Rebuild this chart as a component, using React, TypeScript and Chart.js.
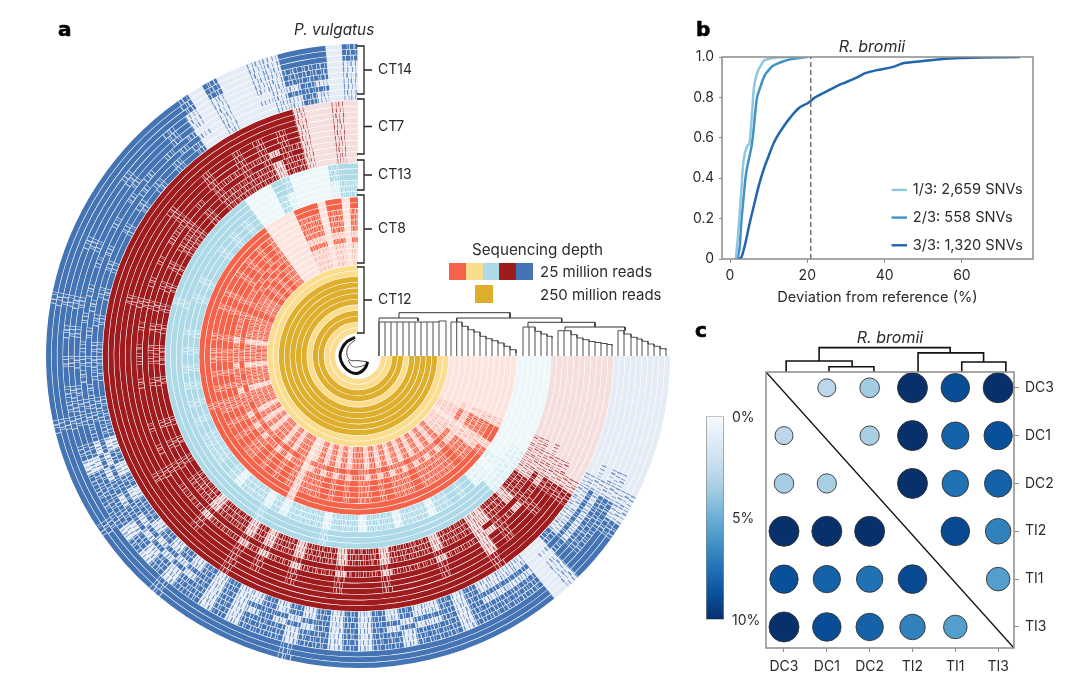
import React, { useEffect, useRef } from "react";
import { Chart, registerables } from "chart.js";

Chart.register(...registerables);

const FONT = "Inter, 'Noto Sans', sans-serif";
const INK = "#2b2b2b";
const SPINE = "#8a8a8a";
Chart.defaults.font.family = FONT;
Chart.defaults.color = INK;

/* ---------- panel a: coverage tracks (one character = 3 degrees, clockwise from east; 0 low .. 3 full) ---------- */
const CT14_OUTER = ["0000000001", "1233310333", "3333333333", "3333233333", "3332333323", "3333323333", "3332333333", "3333333320", "2001133302"];
const CT14_MID = ["0000000011", "2222310222", "2212221221", "2122122212", "1221212122", "2212322232", "3232333233", "3323332310", "1001122201"];
const CT14_INNER = ["0000000001", "1111200111", "1212112121", "2121212112", "1212121221", "2121222322", "2323232332", "3232323200", "1000112101"];
const CT7_OUTER = ["0000000000", "1233333323", "3333333333", "3333333333", "2333333333", "3333333333", "3333333333", "3333333333", "3333310010"];
const CT7_MID = ["0000000001", "1232332313", "3323333233", "3233323323", "2333233332", "3333333333", "3333233333", "3323332332", "3232310010"];
const CT7_INNER = ["0000000011", "1122122112", "2212222122", "2122212212", "1222122232", "3232333232", "2323232323", "2223232222", "2212210010"];
const CT13_OUTER = ["0000000000", "1111133333", "3333333333", "3332333333", "2333333333", "3333333333", "3333323333", "3333333300", "0320000233"];
const CT13_INNER = ["0000000000", "0010113232", "2122212221", "2221222212", "1222123222", "2323232323", "2323332323", "3323232300", "0210000122"];
const CT8_OUTER = ["0000000013", "3123333333", "3333333333", "3333333313", "3333333333", "3332333333", "3333333333", "3333333300", "0033303303"];
const CT8_MID = ["0000000012", "2112232222", "2322232322", "3232322212", "3232322323", "2322323232", "2323332323", "3232323200", "0022202202"];
const CT8_INNER = ["0000000001", "1011121212", "1212121212", "2121212102", "2121221212", "1222122212", "2212222322", "2323232200", "0011101101"];
const CT12_DEEP = ["3333333333", "3333333333", "3333333333", "3333333333", "3333333333", "3333333333", "3333333333", "3333333333", "3333333333"];
const CT12_SHALLOW = ["0000000000", "0000000000", "0000000000", "0000000000", "0000000000", "0000000000", "0000000000", "0000000000", "0000000000"];

const TRACKS_CT12 = [CT12_SHALLOW, CT12_SHALLOW, CT12_DEEP, CT12_DEEP, CT12_SHALLOW, CT12_DEEP, CT12_DEEP, CT12_DEEP, CT12_DEEP, CT12_DEEP, CT12_SHALLOW, CT12_SHALLOW];
const TRACKS_CT8 = [CT8_INNER, CT8_INNER, CT8_INNER, CT8_INNER, CT8_MID, CT8_INNER, CT8_MID, CT8_MID, CT8_MID, CT8_MID, CT8_OUTER, CT8_OUTER];
const TRACKS_CT13 = [CT13_INNER, CT13_INNER, CT13_INNER, CT13_OUTER, CT13_OUTER, CT13_OUTER];
const TRACKS_CT7 = [CT7_INNER, CT7_INNER, CT7_INNER, CT7_MID, CT7_INNER, CT7_MID, CT7_MID, CT7_MID, CT7_OUTER, CT7_OUTER, CT7_OUTER];
const TRACKS_CT14 = [CT14_INNER, CT14_INNER, CT14_MID, CT14_INNER, CT14_MID, CT14_MID, CT14_MID, CT14_OUTER, CT14_OUTER, CT14_OUTER];

const COLOURS_CT12 = ["#FBDD8F", "#DEAE2D"];
const COLOURS_CT8 = ["#FDE5DF", "#F4634A"];
const COLOURS_CT13 = ["#EEF8FB", "#AEDAE8"];
const COLOURS_CT7 = ["#F4DEDE", "#9E1B1E"];
const COLOURS_CT14 = ["#E6ECF6", "#4474B4"];

/* spans (degrees) of alternating covered / uncovered streaks inside one 3-degree cell */
const STREAKS_PARTIAL = [
  [0.3, 0.55, 0.25, 0.7, 0.2, 0.5, 0.15, 0.35],
  [0.2, 0.4, 0.35, 0.6, 0.15, 0.75, 0.3, 0.25],
  [0.25, 0.7, 0.2, 0.35, 0.3, 0.6, 0.2, 0.4],
];
const STREAKS_MOSTLY = [
  [0.8, 0.12, 0.55, 0.2, 0.75, 0.08, 0.4, 0.1],
  [0.5, 0.18, 0.9, 0.1, 0.35, 0.22, 0.65, 0.1],
  [0.95, 0.1, 0.3, 0.15, 0.7, 0.2, 0.5, 0.1],
];

/* ---------- panel a: dendrogram (radius position, height) ---------- */
const LEAVES_CT12 = [21, 27, 33, 39, 45, 51, 57, 63, 69, 75, 81, 88];
const TOPS_CT12 = [34, 34, 34, 34, 34, 34, 34, 34, 34, 34, 35, 35];
const LEAVES_CT8 = [93, 98.7, 104, 110, 116, 122, 128, 134, 140, 146, 152, 158];
const TOPS_CT8 = [34, 34, 29.7, 26.3, 24, 19.7, 17.3, 15.3, 13, 9.7, 6.3, 3];
const LEAVES_CT13 = [165, 171, 177, 183, 189, 194];
const TOPS_CT13 = [29, 29, 24.7, 22, 19.7, 18];
const LEAVES_CT7 = [200, 206, 213, 219, 225, 231, 237, 243, 249, 254];
const TOPS_CT7 = [25.3, 25.3, 21.3, 18, 16.3, 14.5, 13.5, 12.5, 11.5, 10.3];
const LEAVES_CT14 = [260, 266, 273, 279, 284, 290, 296, 302, 308];
const TOPS_CT14 = [25.3, 22, 18.7, 17, 14.7, 12, 9.7, 7.3, 6.3];
const TREE_BRIDGES = [
  [[21, 0], [21, 38], [60, 38], [60, 35]],
  [[41, 38], [41, 43.3], [152, 43.3], [152, 38]],
  [[98.7, 38], [203.7, 38], [203.7, 33.7]],
  [[98.7, 38], [98.7, 34]],
  [[170, 29], [170, 33.7], [237, 33.7], [237, 29]],
  [[207, 25.3], [207, 29], [267, 29], [267, 25.3]],
];
const SWIRL_THICK = [[-3, 18.7], [-11, 14.3], [-16, 7.7], [-18, 0], [-15, -9], [-8, -15.7], [0, -17.3], [7, -12.3], [9.7, -5.7]];
const SWIRL_UPPER = [[-3, 16], [-9.7, 9.3], [-11, 1], [-8, -4], [0, -4.7], [8.7, -5.7]];
const SWIRL_LOWER = [[-9.7, -4], [-6, -10], [0, -11], [7, -9]];
const BRACKET_NAMES = ["CT14", "CT7", "CT13", "CT8", "CT12"];
const BRACKET_FROM = [310, 257, 196, 161, 89];
const BRACKET_TO = [262, 202, 166, 93, 23];

/* ---------- panel a: legend ---------- */
const DEPTH_SWATCHES = ["#F4634A", "#FADC8C", "#AEDAE8", "#9E1B1E", "#4474B4"];
const DEPTH_DEEP = "#DEAE2D";

/* ---------- panel b ---------- */
const B_LABELS = ["1/3: 2,659 SNVs", "2/3: 558 SNVs", "3/3: 1,320 SNVs"];
const B_COLOURS = ["#92C5DE", "#4292C6", "#2166AC"];
const B1_X = [1.5, 2, 2.8, 3.3, 3.8, 4.5, 5, 5.3, 5.8, 6.2, 7, 8, 9, 10, 12, 15, 20];
const B1_Y = [0, 0.1, 0.3, 0.45, 0.52, 0.56, 0.57, 0.62, 0.75, 0.85, 0.92, 0.96, 0.985, 0.99, 0.998, 1, 1];
const B2_X = [2, 2.5, 3, 3.5, 4, 4.5, 5.5, 6, 6.5, 7, 8, 9, 10, 11, 12, 14, 16, 18, 19, 20];
const B2_Y = [0, 0.06, 0.2, 0.3, 0.4, 0.46, 0.55, 0.62, 0.72, 0.8, 0.86, 0.91, 0.935, 0.955, 0.965, 0.98, 0.99, 0.995, 0.998, 1];
const B3_X = [2.2, 3, 4, 5, 6, 7, 8, 9, 10, 11, 12, 14, 16, 18, 20, 21, 22, 24, 26, 28, 30, 33, 35, 38, 42, 45, 50, 55, 60, 65, 75];
const B3_Y = [0, 0.01, 0.08, 0.17, 0.25, 0.33, 0.4, 0.46, 0.51, 0.56, 0.6, 0.66, 0.71, 0.75, 0.77, 0.785, 0.8, 0.82, 0.84, 0.86, 0.875, 0.9, 0.92, 0.935, 0.95, 0.97, 0.98, 0.99, 0.995, 0.998, 1];
const B_THRESHOLD = 20.9;
const B_XTICKS = [0, 20, 40, 60];
const B_YTICKS = [0, 0.2, 0.4, 0.6, 0.8, 1];

/* ---------- panel c ---------- */
const SAMPLES = ["DC3", "DC1", "DC2", "TI2", "TI1", "TI3"];
const DIFF_DC3 = [null, 2.8, 3.6, 10, 8.9, 10];
const DIFF_DC1 = [2.8, null, 3.4, 10, 8.1, 8.8];
const DIFF_DC2 = [3.5, 3.4, null, 10, 7.5, 8.1];
const DIFF_TI2 = [10, 10, 10, null, 9, 6.9];
const DIFF_TI1 = [8.8, 8.1, 7.5, 9, null, 5.7];
const DIFF_TI3 = [10, 8.9, 8.1, 6.9, 5.7, null];
const DIFFS = [DIFF_DC3, DIFF_DC1, DIFF_DC2, DIFF_TI2, DIFF_TI1, DIFF_TI3];
const C_TREE = [
  [[0.05, -0.33], [0.05, -0.56], [1.59, -0.56], [1.59, -0.44]],
  [[1.05, -0.33], [1.05, -0.44], [2.1, -0.44], [2.1, -0.33]],
  [[0.82, -0.56], [0.82, -0.84], [3.88, -0.84], [3.88, -0.73]],
  [[3.13, -0.33], [3.13, -0.73], [4.66, -0.73], [4.66, -0.54]],
  [[4.15, -0.33], [4.15, -0.54], [5.18, -0.54], [5.18, -0.33]],
];
const BLUES = ["#f7fbff", "#deebf7", "#c6dbef", "#9ecae1", "#6baed6", "#4292c6", "#2171b5", "#08519c", "#08306b"];
const BAR_TICKS = [0, 5, 10];

/* ---------- helpers ---------- */
const hex = (c: string) => [1, 3, 5].map((i) => parseInt(c.slice(i, i + 2), 16));
function mix(from: string, to: string, t: number) {
  const a = hex(from);
  const b = hex(to);
  const c = a.map((p, k) => Math.round(p + (b[k] - p) * t));
  return `rgb(${c[0]},${c[1]},${c[2]})`;
}
function bluesAt(v: number) {
  const t = Math.min(Math.max(v / 10, 0), 1) * (BLUES.length - 1);
  const i = Math.min(Math.floor(t), BLUES.length - 2);
  return mix(BLUES[i], BLUES[i + 1], t - i);
}
const bubbleRadius = (v: number) => Math.sqrt(100 + 80 * v) / 2;
const xy = (xs: number[], ys: number[]) => xs.map((x, i) => ({ x, y: ys[i] }));
const gap = { x: NaN, y: NaN };
function polylines(lines: number[][][]) {
  const out: { x: number; y: number }[] = [];
  lines.forEach((l) => {
    l.forEach(([x, y]) => out.push({ x, y }));
    out.push(gap);
  });
  return out;
}
function staircase(leaves: number[], tops: number[]) {
  const lines: number[][][] = [];
  leaves.forEach((r, i) => {
    lines.push([[r, 0], [r, tops[i]]]);
    if (i < leaves.length - 1) lines.push([[r, tops[i]], [leaves[i + 1], tops[i]], [leaves[i + 1], tops[i + 1]]]);
  });
  return lines;
}
function trackDataset(profile: string[], colours: string[], trackIndex: number) {
  const cells = profile.join("").split("").map(Number);
  const data: number[] = [];
  const backgroundColor: string[] = [];
  const softGap = mix(colours[0], colours[1], 0.25);
  const softMark = mix(colours[0], colours[1], 0.75);
  const push = (span: number, colour: string) => {
    if (backgroundColor[backgroundColor.length - 1] === colour) data[data.length - 1] += span;
    else {
      data.push(span);
      backgroundColor.push(colour);
    }
  };
  cells.forEach((level, i) => {
    if (level === 0) push(3, colours[0]);
    else if (level === 3) push(3, colours[1]);
    else if (level === 1) {
      STREAKS_PARTIAL[(i + trackIndex) % 3].forEach((span, k) => push(span, k % 2 === 0 ? softMark : colours[0]));
    } else {
      STREAKS_MOSTLY[(i + trackIndex) % 3].forEach((span, k) => push(span, k % 2 === 0 ? colours[1] : softGap));
    }
  });
  return { data, backgroundColor, borderWidth: 0, hoverBorderWidth: 0, weight: 1 };
}

/* ---------- chart configs ---------- */
function ringsConfig(): any {
  const tracks: { profile: string[]; colours: string[] }[] = [];
  const add = (list: string[][], colours: string[]) => list.forEach((profile) => tracks.push({ profile, colours }));
  add(TRACKS_CT12, COLOURS_CT12);
  add(TRACKS_CT8, COLOURS_CT8);
  add(TRACKS_CT13, COLOURS_CT13);
  add(TRACKS_CT7, COLOURS_CT7);
  add(TRACKS_CT14, COLOURS_CT14);
  const datasets: any[] = [];
  tracks.slice().reverse().forEach((t, idx) => {
    datasets.push(trackDataset(t.profile, t.colours, idx));
    datasets.push({ data: [270], backgroundColor: ["rgba(255,255,255,0.5)"], borderWidth: 0, hoverBorderWidth: 0, weight: 0.11 });
  });
  return {
    type: "doughnut",
    data: { datasets },
    options: {
      responsive: false,
      animation: false,
      events: [],
      rotation: 90,
      circumference: 270,
      radius: 312,
      cutout: 23,
      layout: { padding: 0 },
      plugins: { legend: { display: false }, tooltip: { enabled: false } },
    },
  };
}

function overlayConfig(): any {
  const labelPlugin = {
    id: "bracketLabels",
    afterDatasetsDraw(chart: any) {
      const { ctx, scales } = chart;
      ctx.save();
      ctx.fillStyle = INK;
      ctx.font = `14px ${FONT}`;
      ctx.textBaseline = "middle";
      BRACKET_NAMES.forEach((name, i) => {
        ctx.fillText(name, scales.x.getPixelForValue(20), scales.y.getPixelForValue((BRACKET_FROM[i] + BRACKET_TO[i]) / 2));
      });
      ctx.restore();
    },
  };
  const line = (data: any[], color: string, width: number, tension = 0) => ({
    type: "line",
    data,
    borderColor: color,
    borderWidth: width,
    tension,
    pointRadius: 0,
    spanGaps: false,
    fill: false,
  });
  const leaves = [
    ...staircase(LEAVES_CT12, TOPS_CT12),
    ...staircase(LEAVES_CT8, TOPS_CT8),
    ...staircase(LEAVES_CT13, TOPS_CT13),
    ...staircase(LEAVES_CT7, TOPS_CT7),
    ...staircase(LEAVES_CT14, TOPS_CT14),
  ];
  const brackets: number[][][] = [];
  BRACKET_FROM.forEach((from, i) => {
    const to = BRACKET_TO[i];
    brackets.push([[-1, from], [6, from], [6, to], [-1, to]]);
    brackets.push([[6, (from + to) / 2], [14, (from + to) / 2]]);
  });
  return {
    type: "line",
    data: {
      datasets: [
        line(polylines(leaves), "#4d4d4d", 1),
        line(polylines(TREE_BRIDGES), "#333333", 1),
        line(polylines(brackets), "#222222", 1.3),
        line(SWIRL_THICK.map(([x, y]) => ({ x, y })), "#111111", 3, 0.4),
        line(SWIRL_UPPER.map(([x, y]) => ({ x, y })), "#444444", 1, 0.4),
        line(SWIRL_LOWER.map(([x, y]) => ({ x, y })), "#555555", 1, 0.4),
      ],
    },
    plugins: [labelPlugin],
    options: {
      responsive: false,
      animation: false,
      events: [],
      layout: { padding: 0 },
      plugins: { legend: { display: false }, tooltip: { enabled: false } },
      scales: {
        x: { type: "linear", min: -30, max: 320, display: false },
        y: { type: "linear", min: -30, max: 320, display: false },
      },
    },
  };
}

const boxPlugin = {
  id: "box",
  afterDraw(chart: any) {
    const { ctx, chartArea: a } = chart;
    ctx.save();
    ctx.strokeStyle = SPINE;
    ctx.lineWidth = 1.5;
    ctx.strokeRect(a.left, a.top, a.right - a.left, a.bottom - a.top);
    ctx.restore();
  },
};

function cdfConfig(): any {
  const legendPlugin = {
    id: "snvLegend",
    afterDraw(chart: any) {
      const { ctx, scales } = chart;
      ctx.save();
      ctx.font = `14.6px ${FONT}`;
      ctx.textBaseline = "middle";
      B_LABELS.forEach((label, i) => {
        const y = scales.y.getPixelForValue(0.342 - 0.137 * i);
        ctx.strokeStyle = B_COLOURS[i];
        ctx.lineWidth = 2.4;
        ctx.beginPath();
        ctx.moveTo(scales.x.getPixelForValue(41.8), y);
        ctx.lineTo(scales.x.getPixelForValue(45.8), y);
        ctx.stroke();
        ctx.fillStyle = INK;
        ctx.fillText(label, scales.x.getPixelForValue(47.3), y);
      });
      ctx.restore();
    },
  };
  const series = (x: number[], y: number[], color: string, label: string) => ({
    label,
    data: xy(x, y),
    borderColor: color,
    borderWidth: 2.5,
    pointRadius: 0,
    tension: 0.2,
    fill: false,
  });
  return {
    type: "line",
    data: {
      datasets: [
        { label: "threshold", data: xy([B_THRESHOLD, B_THRESHOLD], [0, 1]), borderColor: "#6b6b6b", borderWidth: 1.4, borderDash: [5, 3], pointRadius: 0 },
        series(B1_X, B1_Y, B_COLOURS[0], B_LABELS[0]),
        series(B2_X, B2_Y, B_COLOURS[1], B_LABELS[1]),
        series(B3_X, B3_Y, B_COLOURS[2], B_LABELS[2]),
      ],
    },
    plugins: [boxPlugin, legendPlugin],
    options: {
      responsive: false,
      animation: false,
      events: [],
      layout: { padding: { right: 21, top: 27 } },
      plugins: { legend: { display: false }, tooltip: { enabled: false } },
      scales: {
        x: {
          type: "linear",
          min: -2.07,
          max: 78.4,
          afterBuildTicks: (s: any) => { s.ticks = B_XTICKS.map((value) => ({ value })); },
          afterFit: (s: any) => { s.height = 51; },
          ticks: { font: { size: 14 }, color: INK, maxRotation: 0, padding: 4, callback: (v: any) => String(v) },
          grid: { drawOnChartArea: false, color: SPINE, tickLength: 4 },
          border: { display: false },
          title: { display: true, text: "Deviation from reference (%)", color: INK, font: { size: 14.6 }, padding: { top: 2, bottom: 4 } },
        },
        y: {
          type: "linear",
          min: 0,
          max: 1,
          afterBuildTicks: (s: any) => { s.ticks = B_YTICKS.map((value) => ({ value })); },
          afterFit: (s: any) => { s.width = 32; },
          ticks: { font: { size: 14 }, color: INK, padding: 5, callback: (v: any) => (v === 0 ? "0" : Number(v).toFixed(1)) },
          grid: { drawOnChartArea: false, color: SPINE, tickLength: 3 },
          border: { display: false },
        },
      },
    },
  };
}

function matrixConfig(): any {
  const points: any[] = [];
  DIFFS.forEach((row, y) =>
    row.forEach((v, x) => {
      if (v !== null) points.push({ x, y, r: bubbleRadius(v), v });
    })
  );
  const xMin = -0.42, xMax = 5.37, yMin = -0.33, yMax = 5.44;
  return {
    type: "bubble",
    data: {
      datasets: [
        { type: "line", data: xy([xMin, xMax], [yMin, yMax]), borderColor: "#111111", borderWidth: 1.4, pointRadius: 0 },
        { type: "line", data: polylines(C_TREE), borderColor: "#111111", borderWidth: 1.6, pointRadius: 0, clip: false, spanGaps: false },
        {
          type: "bubble",
          data: points,
          backgroundColor: points.map((p) => bluesAt(p.v)),
          borderColor: "#333333",
          borderWidth: 0.9,
          hoverRadius: 0,
        },
      ],
    },
    plugins: [boxPlugin],
    options: {
      responsive: false,
      animation: false,
      events: [],
      layout: { padding: { left: 46, top: 47 } },
      plugins: { legend: { display: false }, tooltip: { enabled: false } },
      scales: {
        x: {
          type: "linear",
          min: xMin,
          max: xMax,
          afterBuildTicks: (s: any) => { s.ticks = SAMPLES.map((_, value) => ({ value })); },
          afterFit: (s: any) => { s.height = 32; },
          ticks: { font: { size: 14 }, color: INK, maxRotation: 0, autoSkip: false, padding: 6, callback: (v: any) => SAMPLES[v] },
          grid: { drawOnChartArea: false, color: SPINE, tickLength: 4 },
          border: { display: false },
        },
        y: {
          type: "linear",
          position: "right",
          reverse: true,
          min: yMin,
          max: yMax,
          afterBuildTicks: (s: any) => { s.ticks = SAMPLES.map((_, value) => ({ value })); },
          afterFit: (s: any) => { s.width = 46; },
          ticks: { font: { size: 14 }, color: INK, autoSkip: false, padding: 6, callback: (v: any) => SAMPLES[v] },
          grid: { drawOnChartArea: false, color: SPINE, tickLength: 5 },
          border: { display: false },
        },
      },
    },
  };
}

function colourBarConfig(): any {
  return {
    type: "bar",
    data: {
      labels: ["difference"],
      datasets: [
        {
          data: [[0, 10]],
          barPercentage: 1,
          categoryPercentage: 1,
          borderColor: SPINE,
          borderWidth: 1,
          borderSkipped: false,
          backgroundColor: (c: any) => {
            const a = c.chart.chartArea;
            if (!a) return BLUES[4];
            const g = c.chart.ctx.createLinearGradient(0, a.top, 0, a.bottom);
            BLUES.forEach((col, i) => g.addColorStop(i / (BLUES.length - 1), col));
            return g;
          },
        },
      ],
    },
    options: {
      responsive: false,
      animation: false,
      events: [],
      layout: { padding: { left: 6 } },
      plugins: { legend: { display: false }, tooltip: { enabled: false } },
      scales: {
        x: { display: false },
        y: {
          position: "right",
          reverse: true,
          min: 0,
          max: 10,
          afterBuildTicks: (s: any) => { s.ticks = BAR_TICKS.map((value) => ({ value })); },
          afterFit: (s: any) => { s.width = 46; },
          ticks: { font: { size: 14 }, color: INK, padding: 8, labelOffset: 1, callback: (v: any) => `${v}%` },
          grid: { display: false, drawTicks: false },
          border: { display: false },
        },
      },
    },
  };
}

function Plot({ make, left, top, width, height }: { make: () => any; left: number; top: number; width: number; height: number }) {
  const ref = useRef<HTMLCanvasElement | null>(null);
  useEffect(() => {
    if (!ref.current) return;
    const chart = new Chart(ref.current, make());
    return () => chart.destroy();
  }, [make]);
  return <canvas ref={ref} width={width} height={height} style={{ position: "absolute", left, top, width, height }} />;
}

function Label({ x, y, children, style, centre }: { x: number; y: number; children: React.ReactNode; style?: React.CSSProperties; centre?: boolean }) {
  return (
    <div style={{ position: "absolute", left: x, top: y, transform: centre ? "translate(-50%,-50%)" : "translateY(-50%)", whiteSpace: "nowrap", color: INK, fontFamily: FONT, fontSize: 15, lineHeight: 1, ...style }}>
      {children}
    </div>
  );
}

const panelLetter: React.CSSProperties = { fontFamily: "'DejaVu Sans', sans-serif", fontWeight: 700, fontSize: 20, color: "#000", WebkitTextStroke: "0.6px #000" };

export default function App() {
  return (
    <div style={{ position: "fixed", left: 0, top: 0, width: 1080, height: 691, background: "#fff", overflow: "hidden" }}>
      <Plot make={ringsConfig} left={38} top={36} width={640} height={640} />
      <Plot make={overlayConfig} left={328} top={36} width={350} height={350} />
      <Plot make={cdfConfig} left={690} top={30} width={364} height={280} />
      <Plot make={matrixConfig} left={720} top={325} width={340} height={355} />
      <Plot make={colourBarConfig} left={700} top={400} width={70} height={236} />

      <Label x={58} y={29} style={panelLetter}>a</Label>
      <Label x={696} y={29} style={panelLetter}>b</Label>
      <Label x={695} y={330} style={panelLetter}>c</Label>
      <Label x={294} y={30} style={{ fontStyle: "italic", fontSize: 15.3 }}>P. vulgatus</Label>
      <Label x={872} y={46} centre style={{ fontStyle: "italic", fontSize: 16 }}>R. bromii</Label>
      <Label x={890} y={337} centre style={{ fontStyle: "italic", fontSize: 16 }}>R. bromii</Label>

      <Label x={472} y={250} style={{ fontSize: 15.2 }}>Sequencing depth</Label>
      <div style={{ position: "absolute", left: 449, top: 263, width: 84, height: 17, display: "flex" }}>
        {DEPTH_SWATCHES.map((c) => (
          <div key={c} style={{ flex: 1, background: c }} />
        ))}
      </div>
      <div style={{ position: "absolute", left: 475, top: 285, width: 18, height: 18, background: DEPTH_DEEP }} />
      <Label x={540} y={271}>25 million reads</Label>
      <Label x={540} y={294}>250 million reads</Label>
    </div>
  );
}
